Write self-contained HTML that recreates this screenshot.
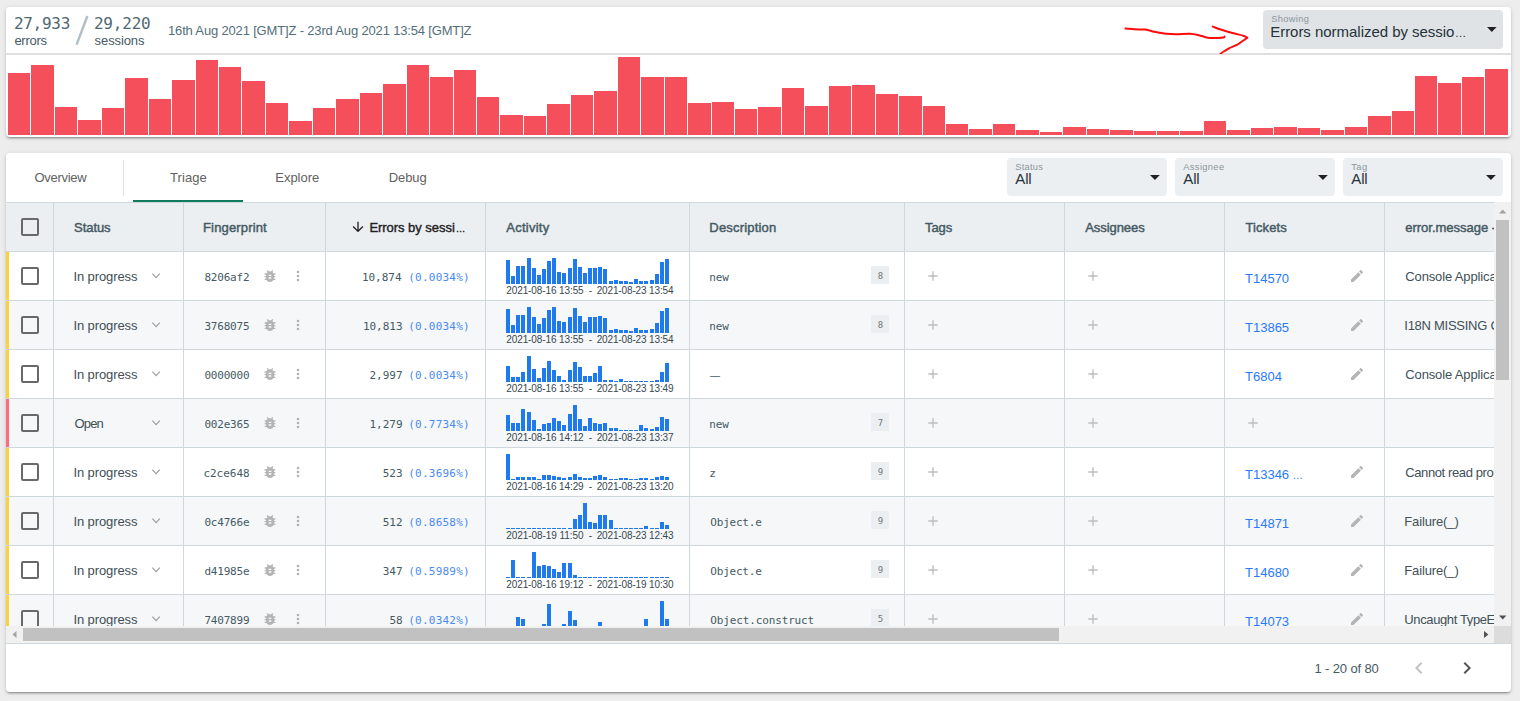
<!DOCTYPE html>
<html lang="en"><head><meta charset="utf-8"><title>Errors – Triage</title>
<style>
*{box-sizing:border-box;margin:0;padding:0}
html,body{width:1520px;height:701px;overflow:hidden;background:#ededed;font-family:"Liberation Sans",sans-serif;color:#37474f}
.card{position:absolute;background:#fff;border-radius:4px;box-shadow:0 3px 1px -2px rgba(0,0,0,.2),0 2px 2px 0 rgba(0,0,0,.14),0 1px 5px 0 rgba(0,0,0,.12)}
.t{position:absolute;white-space:nowrap;line-height:1}
.vl{position:absolute;width:1px;background:#cfd8dc}
.hl{position:absolute;height:1px;background:#cfd8dc}
.cb{position:absolute;width:18px;height:18px;border:2px solid #696969;border-radius:2px}
.sel{position:absolute;background:#eceff1;border-radius:4px}
svg{position:absolute;overflow:visible}
.b{position:absolute;background:#1f7af0;width:4px}
.r{position:absolute;background:#f54f5c}
.bx{position:absolute}
</style></head><body>

<div class="card" style="left:6px;top:7px;width:1505px;height:130px"></div>
<div class="bx" style="left:6px;top:53px;width:1505px;height:2px;background:#dfdfdf"></div>
<div class="t" style="left:13.90px;top:14px;font-size:16px;line-height:19px;font-family:'DejaVu Sans Mono','Liberation Mono',monospace;color:#506873;letter-spacing:-0.273px">27,933</div>
<div class="t" style="left:14.40px;top:33px;font-size:13px;line-height:15px;color:#455a64;letter-spacing:-0.269px">errors</div>
<svg style="left:70px;top:10px" width="24" height="40"><line x1="17.4" y1="6" x2="6.6" y2="34.6" stroke="#b0bec5" stroke-width="2.4"/></svg>
<div class="t" style="left:93.90px;top:14px;font-size:16px;line-height:19px;font-family:'DejaVu Sans Mono','Liberation Mono',monospace;color:#506873;letter-spacing:-0.193px">29,220</div>
<div class="t" style="left:94.60px;top:33px;font-size:13px;line-height:15px;color:#455a64;letter-spacing:-0.097px">sessions</div>
<div class="t" style="left:168.00px;top:23px;font-size:13px;line-height:15px;color:#546e7a;letter-spacing:-0.165px">16th Aug 2021 [GMT]Z - 23rd Aug 2021 13:54 [GMT]Z</div>
<svg style="left:0;top:0;overflow:hidden" width="1520" height="54"><g fill="none" stroke="#ff0a0a" stroke-width="2" stroke-linecap="round" stroke-linejoin="round"><path d="M1125.4 28.6C1127.0 28.7 1131.3 29.1 1134.7 29.3C1138.1 29.5 1142.3 29.2 1145.6 29.6C1148.9 30.0 1151.0 31.1 1154.5 31.8C1158.0 32.5 1162.7 33.4 1166.3 33.75C1169.9 34.1 1172.2 34.2 1176.2 34.2C1180.2 34.2 1186.2 33.6 1190 33.75C1193.8 33.9 1195.9 34.5 1198.9 35.2C1201.9 35.9 1204.7 37.2 1207.8 37.7C1210.9 38.2 1215.0 37.9 1217.6 37.9C1220.2 37.9 1222.4 37.7 1223.6 37.5C1224.8 37.3 1224.3 36.7 1224.5 36.5"/><path d="M1212.7 26.6C1214.2 27.1 1218.1 28.7 1221.6 29.8C1225.0 30.9 1229.8 32.3 1233.4 33.3C1237.0 34.3 1241.0 35.0 1243.3 35.7C1245.6 36.4 1246.5 37.4 1247.2 37.7"/><path d="M1247.2 37.7C1246.4 38.3 1243.9 40.1 1242.3 41.2C1240.7 42.4 1239.5 43.5 1237.4 44.6C1235.3 45.8 1231.7 47.0 1229.5 48.1C1227.3 49.2 1226.0 50.1 1224.5 51C1223.0 51.9 1221.2 53.2 1220.6 53.7"/></g></svg>
<div class="sel" style="left:1263px;top:10px;width:240px;height:38.6px;background:#dfe3e6"></div>
<div class="t" style="left:1271.20px;top:14px;font-size:9.3px;line-height:10px;color:#8a969c;letter-spacing:0.351px">Showing</div>
<div class="t" style="left:1270.20px;top:23px;font-size:15px;line-height:17px;color:#263238;letter-spacing:-0.031px">Errors normalized by sessio</div>
<div class="t" style="left:1454.70px;top:27px;font-size:11.6px;line-height:12px;color:#263238">…</div>
<svg style="left:1486.5px;top:27.2px" width="10" height="5"><path d="M0 0h9.6L4.8 5z" fill="#212121"/></svg>
<div class="r" style="left:8px;top:73px;width:22px;height:62px"></div>
<div class="r" style="left:31px;top:65px;width:23px;height:70px"></div>
<div class="r" style="left:55px;top:107px;width:22px;height:28px"></div>
<div class="r" style="left:78px;top:120px;width:23px;height:15px"></div>
<div class="r" style="left:102px;top:108px;width:22px;height:27px"></div>
<div class="r" style="left:125px;top:78px;width:23px;height:57px"></div>
<div class="r" style="left:149px;top:99px;width:22px;height:36px"></div>
<div class="r" style="left:172px;top:80px;width:23px;height:55px"></div>
<div class="r" style="left:196px;top:60px;width:22px;height:75px"></div>
<div class="r" style="left:219px;top:67px;width:22px;height:68px"></div>
<div class="r" style="left:242px;top:81px;width:23px;height:54px"></div>
<div class="r" style="left:266px;top:103px;width:22px;height:32px"></div>
<div class="r" style="left:289px;top:121px;width:23px;height:14px"></div>
<div class="r" style="left:313px;top:108px;width:22px;height:27px"></div>
<div class="r" style="left:336px;top:99px;width:23px;height:36px"></div>
<div class="r" style="left:360px;top:93px;width:22px;height:42px"></div>
<div class="r" style="left:383px;top:84px;width:23px;height:51px"></div>
<div class="r" style="left:407px;top:65px;width:22px;height:70px"></div>
<div class="r" style="left:430px;top:77px;width:23px;height:58px"></div>
<div class="r" style="left:454px;top:70px;width:22px;height:65px"></div>
<div class="r" style="left:477px;top:97px;width:22px;height:38px"></div>
<div class="r" style="left:500px;top:115px;width:23px;height:20px"></div>
<div class="r" style="left:524px;top:116px;width:22px;height:19px"></div>
<div class="r" style="left:547px;top:104px;width:23px;height:31px"></div>
<div class="r" style="left:571px;top:95px;width:22px;height:40px"></div>
<div class="r" style="left:594px;top:91px;width:23px;height:44px"></div>
<div class="r" style="left:618px;top:57px;width:22px;height:78px"></div>
<div class="r" style="left:641px;top:77px;width:23px;height:58px"></div>
<div class="r" style="left:665px;top:77px;width:22px;height:58px"></div>
<div class="r" style="left:688px;top:103px;width:23px;height:32px"></div>
<div class="r" style="left:712px;top:102px;width:22px;height:33px"></div>
<div class="r" style="left:735px;top:109px;width:22px;height:26px"></div>
<div class="r" style="left:758px;top:107px;width:23px;height:28px"></div>
<div class="r" style="left:782px;top:88px;width:22px;height:47px"></div>
<div class="r" style="left:805px;top:106px;width:23px;height:29px"></div>
<div class="r" style="left:829px;top:86px;width:22px;height:49px"></div>
<div class="r" style="left:852px;top:85px;width:23px;height:50px"></div>
<div class="r" style="left:876px;top:94px;width:22px;height:41px"></div>
<div class="r" style="left:899px;top:96px;width:23px;height:39px"></div>
<div class="r" style="left:923px;top:106px;width:22px;height:29px"></div>
<div class="r" style="left:946px;top:124px;width:22px;height:11px"></div>
<div class="r" style="left:969px;top:129px;width:23px;height:6px"></div>
<div class="r" style="left:993px;top:124px;width:22px;height:11px"></div>
<div class="r" style="left:1016px;top:130px;width:23px;height:5px"></div>
<div class="r" style="left:1040px;top:132px;width:22px;height:3px"></div>
<div class="r" style="left:1063px;top:127px;width:23px;height:8px"></div>
<div class="r" style="left:1087px;top:129px;width:22px;height:6px"></div>
<div class="r" style="left:1110px;top:130px;width:23px;height:5px"></div>
<div class="r" style="left:1134px;top:131px;width:22px;height:4px"></div>
<div class="r" style="left:1157px;top:131px;width:22px;height:4px"></div>
<div class="r" style="left:1180px;top:131px;width:23px;height:4px"></div>
<div class="r" style="left:1204px;top:121px;width:22px;height:14px"></div>
<div class="r" style="left:1227px;top:130px;width:23px;height:5px"></div>
<div class="r" style="left:1251px;top:128px;width:22px;height:7px"></div>
<div class="r" style="left:1274px;top:127px;width:23px;height:8px"></div>
<div class="r" style="left:1298px;top:128px;width:22px;height:7px"></div>
<div class="r" style="left:1321px;top:130px;width:23px;height:5px"></div>
<div class="r" style="left:1345px;top:127px;width:22px;height:8px"></div>
<div class="r" style="left:1368px;top:116px;width:23px;height:19px"></div>
<div class="r" style="left:1392px;top:111px;width:22px;height:24px"></div>
<div class="r" style="left:1415px;top:76px;width:22px;height:59px"></div>
<div class="r" style="left:1438px;top:83px;width:23px;height:52px"></div>
<div class="r" style="left:1462px;top:77px;width:22px;height:58px"></div>
<div class="r" style="left:1485px;top:69px;width:23px;height:66px"></div>
<div class="card" style="left:6px;top:153px;width:1505px;height:539px"></div>
<div class="t" style="left:34.50px;top:170px;font-size:13px;line-height:15px;color:#616161;letter-spacing:-0.298px">Overview</div>
<div class="t" style="left:170.00px;top:170px;font-size:13px;line-height:15px;color:#616161;letter-spacing:0.073px">Triage</div>
<div class="t" style="left:275.30px;top:170px;font-size:13px;line-height:15px;color:#616161;letter-spacing:-0.025px">Explore</div>
<div class="t" style="left:388.80px;top:170px;font-size:13px;line-height:15px;color:#616161;letter-spacing:-0.120px">Debug</div>
<div class="vl" style="left:123px;top:160px;height:36px;background:#e0e0e0"></div>
<div class="bx" style="left:133px;top:200px;width:110px;height:2px;background:#0f7b5c"></div>
<div class="sel" style="left:1007px;top:158px;width:160px;height:38px"></div>
<div class="t" style="left:1015.30px;top:162px;font-size:9.3px;line-height:10px;color:#8a969c;letter-spacing:0.258px">Status</div>
<div class="t" style="left:1015.30px;top:170px;font-size:15px;line-height:17px;color:#263238;letter-spacing:-0.169px">All</div>
<svg style="left:1150px;top:175px" width="10" height="5"><path d="M0 0h9.8L4.9 5z" fill="#212121"/></svg>
<div class="sel" style="left:1175px;top:158px;width:160px;height:38px"></div>
<div class="t" style="left:1183.30px;top:162px;font-size:9.3px;line-height:10px;color:#8a969c;letter-spacing:0.361px">Assignee</div>
<div class="t" style="left:1183.30px;top:170px;font-size:15px;line-height:17px;color:#263238;letter-spacing:-0.169px">All</div>
<svg style="left:1318px;top:175px" width="10" height="5"><path d="M0 0h9.8L4.9 5z" fill="#212121"/></svg>
<div class="sel" style="left:1343px;top:158px;width:160px;height:38px"></div>
<div class="t" style="left:1351.30px;top:162px;font-size:9.3px;line-height:10px;color:#8a969c;letter-spacing:0.391px">Tag</div>
<div class="t" style="left:1351.30px;top:170px;font-size:15px;line-height:17px;color:#263238;letter-spacing:-0.169px">All</div>
<svg style="left:1486px;top:175px" width="10" height="5"><path d="M0 0h9.8L4.9 5z" fill="#212121"/></svg>
<div class="bx" style="left:6px;top:202px;width:1488px;height:50px;background:#eceff1;border-top:1px solid #cfd8dc;border-bottom:1px solid #cfd8dc"></div>
<div class="cb" style="left:21px;top:218px"></div>
<div class="bx" style="left:0;top:203px;width:1494px;height:48px;overflow:hidden"><div class="bx" style="left:0;top:-203px">
<div class="t" style="left:74.10px;top:220px;font-size:13px;line-height:15px;color:#455a64;letter-spacing:-0.071px;-webkit-text-stroke:0.45px">Status</div>
<div class="t" style="left:203.00px;top:220px;font-size:13px;line-height:15px;color:#455a64;letter-spacing:0.157px;-webkit-text-stroke:0.45px">Fingerprint</div>
<div class="t" style="left:369.40px;top:220px;font-size:13px;line-height:15px;color:#212121;letter-spacing:-0.041px;-webkit-text-stroke:0.4px">Errors by sessi</div>
<div class="t" style="left:455.70px;top:223px;font-size:9.6px;line-height:11px;color:#212121;-webkit-text-stroke:0.3px">…</div>
<div class="t" style="left:506.30px;top:220px;font-size:13px;line-height:15px;color:#455a64;letter-spacing:0.247px;-webkit-text-stroke:0.45px">Activity</div>
<div class="t" style="left:709.30px;top:220px;font-size:13px;line-height:15px;color:#455a64;letter-spacing:0.190px;-webkit-text-stroke:0.45px">Description</div>
<div class="t" style="left:925.00px;top:220px;font-size:13px;line-height:15px;color:#455a64;letter-spacing:-0.087px;-webkit-text-stroke:0.45px">Tags</div>
<div class="t" style="left:1085.20px;top:220px;font-size:13px;line-height:15px;color:#455a64;letter-spacing:-0.060px;-webkit-text-stroke:0.45px">Assignees</div>
<div class="t" style="left:1245.40px;top:220px;font-size:13px;line-height:15px;color:#455a64;letter-spacing:0.119px;-webkit-text-stroke:0.45px">Tickets</div>
<div class="t" style="left:1405.20px;top:220px;font-size:13px;line-height:15px;color:#455a64;letter-spacing:-0.005px;-webkit-text-stroke:0.45px">error.message</div>
<div class="t" style="left:1491.80px;top:220px;font-size:13px;line-height:15px;color:#455a64;-webkit-text-stroke:0.45px">-</div>
</div></div>
<svg style="left:350.10px;top:219.10px" width="16" height="16" viewBox="0 0 24 24"><path d="M20 12l-1.41-1.41L13 16.17V4h-2v12.17l-5.58-5.59L4 12l8 8 8-8z" fill="#212121"/></svg>
<div class="bx" style="left:0;top:252px;width:1494px;height:374px;overflow:hidden">
<div class="bx" style="left:6px;top:0px;width:1488px;height:49px;background:#fff;border-bottom:1px solid #cfd8dc"></div>
<div class="bx" style="left:6px;top:0px;width:3px;height:48px;background:#fdd13a"></div>
<div class="cb" style="left:21px;top:15px"></div>
<div class="t" style="left:73.40px;top:17px;font-size:13px;line-height:15px;color:#414f57;letter-spacing:-0.093px">In progress</div>
<svg style="left:152px;top:21px" width="9" height="6" viewBox="0 0 9 6"><path d="M0.4 0.6 4.1 4.6 7.8 0.6" fill="none" stroke="#9e9e9e" stroke-width="1.2"/></svg>
<div class="t" style="left:204.40px;top:19px;font-size:11px;line-height:13px;font-family:'DejaVu Sans Mono','Liberation Mono',monospace;color:#455a64;letter-spacing:-0.189px">8206af2</div>
<svg style="left:261.60px;top:15.80px" width="16" height="16" viewBox="0 0 24 24"><path d="M20 8h-2.81c-.45-.78-1.07-1.45-1.82-1.96L17 4.41 15.59 3l-2.17 2.17C12.96 5.06 12.49 5 12 5c-.49 0-.96.06-1.41.17L8.41 3 7 4.41l1.62 1.63C7.88 6.55 7.26 7.22 6.81 8H4v2h2.09c-.05.33-.09.66-.09 1v1H4v2h2v1c0 .34.04.67.09 1H4v2h2.81c1.04 1.79 2.97 3 5.19 3s4.15-1.21 5.19-3H20v-2h-2.09c.05-.33.09-.66.09-1v-1h2v-2h-2v-1c0-.34-.04-.67-.09-1H20V8zm-6 8h-4v-2h4v2zm0-4h-4v-2h4v2z" fill="#b4b4b4"/></svg>
<svg style="left:290.1px;top:16px" width="16" height="16" viewBox="0 0 24 24"><circle cx="12" cy="6" r="2" fill="#b2b2b2"/><circle cx="12" cy="12" r="2" fill="#b2b2b2"/><circle cx="12" cy="18" r="2" fill="#b2b2b2"/></svg>
<div class="t" style="left:361.89px;top:19px;font-size:11px;line-height:13px;font-family:'DejaVu Sans Mono','Liberation Mono',monospace;color:#455a64">10,874</div>
<div class="t" style="left:408.20px;top:19px;font-size:11px;line-height:13px;font-family:'DejaVu Sans Mono','Liberation Mono',monospace;color:#4a8af4;letter-spacing:0.240px">(0.0034%)</div>
<div class="b" style="left:506.000px;top:8px;height:24px"></div>
<div class="b" style="left:511.125px;top:24px;height:8px"></div>
<div class="b" style="left:516.250px;top:14px;height:18px"></div>
<div class="b" style="left:521.375px;top:14px;height:18px"></div>
<div class="b" style="left:526.500px;top:6px;height:26px"></div>
<div class="b" style="left:531.625px;top:16px;height:16px"></div>
<div class="b" style="left:536.750px;top:23px;height:9px"></div>
<div class="b" style="left:541.875px;top:17px;height:15px"></div>
<div class="b" style="left:547.000px;top:9px;height:23px"></div>
<div class="b" style="left:552.125px;top:6px;height:26px"></div>
<div class="b" style="left:557.250px;top:20px;height:12px"></div>
<div class="b" style="left:562.375px;top:21px;height:11px"></div>
<div class="b" style="left:567.500px;top:16px;height:16px"></div>
<div class="b" style="left:572.625px;top:7px;height:25px"></div>
<div class="b" style="left:577.750px;top:15px;height:17px"></div>
<div class="b" style="left:582.875px;top:21px;height:11px"></div>
<div class="b" style="left:588.000px;top:16px;height:16px"></div>
<div class="b" style="left:593.125px;top:16px;height:16px"></div>
<div class="b" style="left:598.250px;top:15px;height:17px"></div>
<div class="b" style="left:603.375px;top:17px;height:15px"></div>
<div class="b" style="left:608.500px;top:29px;height:3px"></div>
<div class="b" style="left:613.625px;top:28px;height:4px"></div>
<div class="b" style="left:618.750px;top:29px;height:3px"></div>
<div class="b" style="left:623.875px;top:29px;height:3px"></div>
<div class="b" style="left:629.000px;top:30px;height:2px"></div>
<div class="b" style="left:634.125px;top:27px;height:5px"></div>
<div class="b" style="left:639.250px;top:29px;height:3px"></div>
<div class="b" style="left:644.375px;top:29px;height:3px"></div>
<div class="b" style="left:649.500px;top:28px;height:4px"></div>
<div class="b" style="left:654.625px;top:22px;height:10px"></div>
<div class="b" style="left:659.750px;top:10px;height:22px"></div>
<div class="b" style="left:664.875px;top:7px;height:25px"></div>
<div class="t" style="left:506.25px;top:33px;font-size:10px;line-height:11px;color:#37474f;letter-spacing:-0.103px">2021-08-16 13:55</div>
<div class="t" style="left:588.80px;top:33px;font-size:10px;line-height:11px;color:#37474f">-</div>
<div class="t" style="left:596.70px;top:33px;font-size:10px;line-height:11px;color:#37474f;letter-spacing:-0.140px">2021-08-23 13:54</div>
<div class="t" style="left:709.30px;top:19px;font-size:11px;line-height:13px;font-family:'DejaVu Sans Mono','Liberation Mono',monospace;color:#455a64;letter-spacing:-0.123px">new</div>
<div class="bx" style="left:871px;top:14px;width:18px;height:18px;background:#eceff1"></div>
<div class="t" style="left:877.80px;top:19px;font-size:9px;line-height:10px;font-family:'DejaVu Sans Mono','Liberation Mono',monospace;color:#757575">8</div>
<svg style="left:925.00px;top:16.00px" width="16" height="16" viewBox="0 0 24 24"><path d="M19 13h-6v6h-2v-6H5v-2h6V5h2v6h6v2z" fill="#bdbdbd"/></svg>
<svg style="left:1085.00px;top:16.00px" width="16" height="16" viewBox="0 0 24 24"><path d="M19 13h-6v6h-2v-6H5v-2h6V5h2v6h6v2z" fill="#bdbdbd"/></svg>
<div class="t" style="left:1245.00px;top:19px;font-size:13px;line-height:15px;color:#2979ff">T14570</div>
<svg style="left:1348.80px;top:15.80px" width="16" height="16" viewBox="0 0 24 24"><path d="M3 17.25V21h3.75L17.81 9.94l-3.75-3.75L3 17.25zM20.71 7.04c.39-.39.39-1.02 0-1.41l-2.34-2.34c-.39-.39-1.02-.39-1.41 0l-1.83 1.83 3.75 3.75 1.83-1.83z" fill="#b4b4b4"/></svg>
<div class="t" style="left:1405.30px;top:17px;font-size:13px;line-height:15px;color:#414f57;letter-spacing:-0.132px">Console Application Error</div>
<div class="bx" style="left:6px;top:49px;width:1488px;height:49px;background:#f5f7f8;border-bottom:1px solid #cfd8dc"></div>
<div class="bx" style="left:6px;top:49px;width:3px;height:48px;background:#fdd13a"></div>
<div class="cb" style="left:21px;top:64px"></div>
<div class="t" style="left:73.40px;top:66px;font-size:13px;line-height:15px;color:#414f57;letter-spacing:-0.093px">In progress</div>
<svg style="left:152px;top:70px" width="9" height="6" viewBox="0 0 9 6"><path d="M0.4 0.6 4.1 4.6 7.8 0.6" fill="none" stroke="#9e9e9e" stroke-width="1.2"/></svg>
<div class="t" style="left:204.40px;top:68px;font-size:11px;line-height:13px;font-family:'DejaVu Sans Mono','Liberation Mono',monospace;color:#455a64;letter-spacing:-0.189px">3768075</div>
<svg style="left:261.60px;top:64.80px" width="16" height="16" viewBox="0 0 24 24"><path d="M20 8h-2.81c-.45-.78-1.07-1.45-1.82-1.96L17 4.41 15.59 3l-2.17 2.17C12.96 5.06 12.49 5 12 5c-.49 0-.96.06-1.41.17L8.41 3 7 4.41l1.62 1.63C7.88 6.55 7.26 7.22 6.81 8H4v2h2.09c-.05.33-.09.66-.09 1v1H4v2h2v1c0 .34.04.67.09 1H4v2h2.81c1.04 1.79 2.97 3 5.19 3s4.15-1.21 5.19-3H20v-2h-2.09c.05-.33.09-.66.09-1v-1h2v-2h-2v-1c0-.34-.04-.67-.09-1H20V8zm-6 8h-4v-2h4v2zm0-4h-4v-2h4v2z" fill="#b4b4b4"/></svg>
<svg style="left:290.1px;top:65px" width="16" height="16" viewBox="0 0 24 24"><circle cx="12" cy="6" r="2" fill="#b2b2b2"/><circle cx="12" cy="12" r="2" fill="#b2b2b2"/><circle cx="12" cy="18" r="2" fill="#b2b2b2"/></svg>
<div class="t" style="left:362.89px;top:68px;font-size:11px;line-height:13px;font-family:'DejaVu Sans Mono','Liberation Mono',monospace;color:#455a64">10,813</div>
<div class="t" style="left:408.20px;top:68px;font-size:11px;line-height:13px;font-family:'DejaVu Sans Mono','Liberation Mono',monospace;color:#4a8af4;letter-spacing:0.240px">(0.0034%)</div>
<div class="b" style="left:506.000px;top:57px;height:24px"></div>
<div class="b" style="left:511.125px;top:73px;height:8px"></div>
<div class="b" style="left:516.250px;top:63px;height:18px"></div>
<div class="b" style="left:521.375px;top:63px;height:18px"></div>
<div class="b" style="left:526.500px;top:55px;height:26px"></div>
<div class="b" style="left:531.625px;top:65px;height:16px"></div>
<div class="b" style="left:536.750px;top:72px;height:9px"></div>
<div class="b" style="left:541.875px;top:66px;height:15px"></div>
<div class="b" style="left:547.000px;top:58px;height:23px"></div>
<div class="b" style="left:552.125px;top:55px;height:26px"></div>
<div class="b" style="left:557.250px;top:69px;height:12px"></div>
<div class="b" style="left:562.375px;top:70px;height:11px"></div>
<div class="b" style="left:567.500px;top:65px;height:16px"></div>
<div class="b" style="left:572.625px;top:56px;height:25px"></div>
<div class="b" style="left:577.750px;top:64px;height:17px"></div>
<div class="b" style="left:582.875px;top:70px;height:11px"></div>
<div class="b" style="left:588.000px;top:65px;height:16px"></div>
<div class="b" style="left:593.125px;top:65px;height:16px"></div>
<div class="b" style="left:598.250px;top:64px;height:17px"></div>
<div class="b" style="left:603.375px;top:66px;height:15px"></div>
<div class="b" style="left:608.500px;top:78px;height:3px"></div>
<div class="b" style="left:613.625px;top:77px;height:4px"></div>
<div class="b" style="left:618.750px;top:78px;height:3px"></div>
<div class="b" style="left:623.875px;top:78px;height:3px"></div>
<div class="b" style="left:629.000px;top:79px;height:2px"></div>
<div class="b" style="left:634.125px;top:76px;height:5px"></div>
<div class="b" style="left:639.250px;top:78px;height:3px"></div>
<div class="b" style="left:644.375px;top:78px;height:3px"></div>
<div class="b" style="left:649.500px;top:77px;height:4px"></div>
<div class="b" style="left:654.625px;top:71px;height:10px"></div>
<div class="b" style="left:659.750px;top:59px;height:22px"></div>
<div class="b" style="left:664.875px;top:56px;height:25px"></div>
<div class="t" style="left:506.25px;top:82px;font-size:10px;line-height:11px;color:#37474f;letter-spacing:-0.103px">2021-08-16 13:55</div>
<div class="t" style="left:588.80px;top:82px;font-size:10px;line-height:11px;color:#37474f">-</div>
<div class="t" style="left:596.70px;top:82px;font-size:10px;line-height:11px;color:#37474f;letter-spacing:-0.140px">2021-08-23 13:54</div>
<div class="t" style="left:709.30px;top:68px;font-size:11px;line-height:13px;font-family:'DejaVu Sans Mono','Liberation Mono',monospace;color:#455a64;letter-spacing:-0.123px">new</div>
<div class="bx" style="left:871px;top:63px;width:18px;height:18px;background:#eceff1"></div>
<div class="t" style="left:877.80px;top:68px;font-size:9px;line-height:10px;font-family:'DejaVu Sans Mono','Liberation Mono',monospace;color:#757575">8</div>
<svg style="left:925.00px;top:65.00px" width="16" height="16" viewBox="0 0 24 24"><path d="M19 13h-6v6h-2v-6H5v-2h6V5h2v6h6v2z" fill="#bdbdbd"/></svg>
<svg style="left:1085.00px;top:65.00px" width="16" height="16" viewBox="0 0 24 24"><path d="M19 13h-6v6h-2v-6H5v-2h6V5h2v6h6v2z" fill="#bdbdbd"/></svg>
<div class="t" style="left:1245.00px;top:68px;font-size:13px;line-height:15px;color:#2979ff">T13865</div>
<svg style="left:1348.80px;top:64.80px" width="16" height="16" viewBox="0 0 24 24"><path d="M3 17.25V21h3.75L17.81 9.94l-3.75-3.75L3 17.25zM20.71 7.04c.39-.39.39-1.02 0-1.41l-2.34-2.34c-.39-.39-1.02-.39-1.41 0l-1.83 1.83 3.75 3.75 1.83-1.83z" fill="#b4b4b4"/></svg>
<div class="t" style="left:1404.30px;top:66px;font-size:13px;line-height:15px;color:#414f57;letter-spacing:-0.269px">I18N MISSING Configuration</div>
<div class="bx" style="left:6px;top:98px;width:1488px;height:49px;background:#fff;border-bottom:1px solid #cfd8dc"></div>
<div class="bx" style="left:6px;top:98px;width:3px;height:48px;background:#fdd13a"></div>
<div class="cb" style="left:21px;top:113px"></div>
<div class="t" style="left:73.40px;top:115px;font-size:13px;line-height:15px;color:#414f57;letter-spacing:-0.093px">In progress</div>
<svg style="left:152px;top:119px" width="9" height="6" viewBox="0 0 9 6"><path d="M0.4 0.6 4.1 4.6 7.8 0.6" fill="none" stroke="#9e9e9e" stroke-width="1.2"/></svg>
<div class="t" style="left:204.40px;top:117px;font-size:11px;line-height:13px;font-family:'DejaVu Sans Mono','Liberation Mono',monospace;color:#455a64;letter-spacing:-0.189px">0000000</div>
<svg style="left:261.60px;top:113.80px" width="16" height="16" viewBox="0 0 24 24"><path d="M20 8h-2.81c-.45-.78-1.07-1.45-1.82-1.96L17 4.41 15.59 3l-2.17 2.17C12.96 5.06 12.49 5 12 5c-.49 0-.96.06-1.41.17L8.41 3 7 4.41l1.62 1.63C7.88 6.55 7.26 7.22 6.81 8H4v2h2.09c-.05.33-.09.66-.09 1v1H4v2h2v1c0 .34.04.67.09 1H4v2h2.81c1.04 1.79 2.97 3 5.19 3s4.15-1.21 5.19-3H20v-2h-2.09c.05-.33.09-.66.09-1v-1h2v-2h-2v-1c0-.34-.04-.67-.09-1H20V8zm-6 8h-4v-2h4v2zm0-4h-4v-2h4v2z" fill="#b4b4b4"/></svg>
<svg style="left:290.1px;top:114px" width="16" height="16" viewBox="0 0 24 24"><circle cx="12" cy="6" r="2" fill="#b2b2b2"/><circle cx="12" cy="12" r="2" fill="#b2b2b2"/><circle cx="12" cy="18" r="2" fill="#b2b2b2"/></svg>
<div class="t" style="left:369.51px;top:117px;font-size:11px;line-height:13px;font-family:'DejaVu Sans Mono','Liberation Mono',monospace;color:#455a64">2,997</div>
<div class="t" style="left:408.20px;top:117px;font-size:11px;line-height:13px;font-family:'DejaVu Sans Mono','Liberation Mono',monospace;color:#4a8af4;letter-spacing:0.240px">(0.0034%)</div>
<div class="b" style="left:506.000px;top:114px;height:16px"></div>
<div class="b" style="left:511.125px;top:125px;height:5px"></div>
<div class="b" style="left:516.250px;top:125px;height:5px"></div>
<div class="b" style="left:521.375px;top:120px;height:10px"></div>
<div class="b" style="left:526.500px;top:104px;height:26px"></div>
<div class="b" style="left:531.625px;top:117px;height:13px"></div>
<div class="b" style="left:536.750px;top:126px;height:4px"></div>
<div class="b" style="left:541.875px;top:116px;height:14px"></div>
<div class="b" style="left:547.000px;top:109px;height:21px"></div>
<div class="b" style="left:552.125px;top:118px;height:12px"></div>
<div class="b" style="left:557.250px;top:124px;height:6px"></div>
<div class="b" style="left:562.375px;top:128px;height:2px"></div>
<div class="b" style="left:567.500px;top:118px;height:12px"></div>
<div class="b" style="left:572.625px;top:110px;height:20px"></div>
<div class="b" style="left:577.750px;top:115px;height:15px"></div>
<div class="b" style="left:582.875px;top:124px;height:6px"></div>
<div class="b" style="left:588.000px;top:124px;height:6px"></div>
<div class="b" style="left:593.125px;top:121px;height:9px"></div>
<div class="b" style="left:598.250px;top:114px;height:16px"></div>
<div class="b" style="left:603.375px;top:128px;height:2px"></div>
<div class="b" style="left:608.500px;top:128px;height:2px"></div>
<div class="b" style="left:613.625px;top:129px;height:1px"></div>
<div class="b" style="left:618.750px;top:127px;height:3px"></div>
<div class="b" style="left:623.875px;top:129px;height:1px"></div>
<div class="b" style="left:629.000px;top:129px;height:1px"></div>
<div class="b" style="left:634.125px;top:129px;height:1px"></div>
<div class="b" style="left:639.250px;top:129px;height:1px"></div>
<div class="b" style="left:644.375px;top:129px;height:1px"></div>
<div class="b" style="left:649.500px;top:129px;height:1px"></div>
<div class="b" style="left:654.625px;top:128px;height:2px"></div>
<div class="b" style="left:659.750px;top:120px;height:10px"></div>
<div class="b" style="left:664.875px;top:111px;height:19px"></div>
<div class="t" style="left:506.25px;top:131px;font-size:10px;line-height:11px;color:#37474f;letter-spacing:-0.103px">2021-08-16 13:55</div>
<div class="t" style="left:588.80px;top:131px;font-size:10px;line-height:11px;color:#37474f">-</div>
<div class="t" style="left:596.70px;top:131px;font-size:10px;line-height:11px;color:#37474f;letter-spacing:-0.140px">2021-08-23 13:49</div>
<div class="t" style="left:710.00px;top:118px;font-size:10px;line-height:11px;color:#455a64">—</div>
<svg style="left:925.00px;top:114.00px" width="16" height="16" viewBox="0 0 24 24"><path d="M19 13h-6v6h-2v-6H5v-2h6V5h2v6h6v2z" fill="#bdbdbd"/></svg>
<svg style="left:1085.00px;top:114.00px" width="16" height="16" viewBox="0 0 24 24"><path d="M19 13h-6v6h-2v-6H5v-2h6V5h2v6h6v2z" fill="#bdbdbd"/></svg>
<div class="t" style="left:1245.00px;top:117px;font-size:13px;line-height:15px;color:#2979ff">T6804</div>
<svg style="left:1348.80px;top:113.80px" width="16" height="16" viewBox="0 0 24 24"><path d="M3 17.25V21h3.75L17.81 9.94l-3.75-3.75L3 17.25zM20.71 7.04c.39-.39.39-1.02 0-1.41l-2.34-2.34c-.39-.39-1.02-.39-1.41 0l-1.83 1.83 3.75 3.75 1.83-1.83z" fill="#b4b4b4"/></svg>
<div class="t" style="left:1405.30px;top:115px;font-size:13px;line-height:15px;color:#414f57;letter-spacing:-0.132px">Console Application Error</div>
<div class="bx" style="left:6px;top:147px;width:1488px;height:49px;background:#f5f7f8;border-bottom:1px solid #cfd8dc"></div>
<div class="bx" style="left:6px;top:147px;width:3px;height:48px;background:#ff6b7c"></div>
<div class="cb" style="left:21px;top:162px"></div>
<div class="t" style="left:74.40px;top:164px;font-size:13px;line-height:15px;color:#414f57;letter-spacing:-0.791px">Open</div>
<svg style="left:152px;top:168px" width="9" height="6" viewBox="0 0 9 6"><path d="M0.4 0.6 4.1 4.6 7.8 0.6" fill="none" stroke="#9e9e9e" stroke-width="1.2"/></svg>
<div class="t" style="left:204.40px;top:166px;font-size:11px;line-height:13px;font-family:'DejaVu Sans Mono','Liberation Mono',monospace;color:#455a64;letter-spacing:-0.189px">002e365</div>
<svg style="left:261.60px;top:162.80px" width="16" height="16" viewBox="0 0 24 24"><path d="M20 8h-2.81c-.45-.78-1.07-1.45-1.82-1.96L17 4.41 15.59 3l-2.17 2.17C12.96 5.06 12.49 5 12 5c-.49 0-.96.06-1.41.17L8.41 3 7 4.41l1.62 1.63C7.88 6.55 7.26 7.22 6.81 8H4v2h2.09c-.05.33-.09.66-.09 1v1H4v2h2v1c0 .34.04.67.09 1H4v2h2.81c1.04 1.79 2.97 3 5.19 3s4.15-1.21 5.19-3H20v-2h-2.09c.05-.33.09-.66.09-1v-1h2v-2h-2v-1c0-.34-.04-.67-.09-1H20V8zm-6 8h-4v-2h4v2zm0-4h-4v-2h4v2z" fill="#b4b4b4"/></svg>
<svg style="left:290.1px;top:163px" width="16" height="16" viewBox="0 0 24 24"><circle cx="12" cy="6" r="2" fill="#b2b2b2"/><circle cx="12" cy="12" r="2" fill="#b2b2b2"/><circle cx="12" cy="18" r="2" fill="#b2b2b2"/></svg>
<div class="t" style="left:369.51px;top:166px;font-size:11px;line-height:13px;font-family:'DejaVu Sans Mono','Liberation Mono',monospace;color:#455a64">1,279</div>
<div class="t" style="left:408.20px;top:166px;font-size:11px;line-height:13px;font-family:'DejaVu Sans Mono','Liberation Mono',monospace;color:#4a8af4;letter-spacing:0.240px">(0.7734%)</div>
<div class="b" style="left:506.000px;top:163px;height:16px"></div>
<div class="b" style="left:511.125px;top:171px;height:8px"></div>
<div class="b" style="left:516.250px;top:171px;height:8px"></div>
<div class="b" style="left:521.375px;top:157px;height:22px"></div>
<div class="b" style="left:526.500px;top:160px;height:19px"></div>
<div class="b" style="left:531.625px;top:168px;height:11px"></div>
<div class="b" style="left:536.750px;top:177px;height:2px"></div>
<div class="b" style="left:541.875px;top:172px;height:7px"></div>
<div class="b" style="left:547.000px;top:171px;height:8px"></div>
<div class="b" style="left:552.125px;top:166px;height:13px"></div>
<div class="b" style="left:557.250px;top:169px;height:10px"></div>
<div class="b" style="left:562.375px;top:173px;height:6px"></div>
<div class="b" style="left:567.500px;top:162px;height:17px"></div>
<div class="b" style="left:572.625px;top:153px;height:26px"></div>
<div class="b" style="left:577.750px;top:167px;height:12px"></div>
<div class="b" style="left:582.875px;top:174px;height:5px"></div>
<div class="b" style="left:588.000px;top:166px;height:13px"></div>
<div class="b" style="left:593.125px;top:171px;height:8px"></div>
<div class="b" style="left:598.250px;top:172px;height:7px"></div>
<div class="b" style="left:603.375px;top:171px;height:8px"></div>
<div class="b" style="left:608.500px;top:176px;height:3px"></div>
<div class="b" style="left:613.625px;top:176px;height:3px"></div>
<div class="b" style="left:618.750px;top:178px;height:1px"></div>
<div class="b" style="left:623.875px;top:178px;height:1px"></div>
<div class="b" style="left:629.000px;top:178px;height:1px"></div>
<div class="b" style="left:634.125px;top:178px;height:1px"></div>
<div class="b" style="left:639.250px;top:173px;height:6px"></div>
<div class="b" style="left:644.375px;top:176px;height:3px"></div>
<div class="b" style="left:649.500px;top:177px;height:2px"></div>
<div class="b" style="left:654.625px;top:175px;height:4px"></div>
<div class="b" style="left:659.750px;top:165px;height:14px"></div>
<div class="b" style="left:664.875px;top:167px;height:12px"></div>
<div class="t" style="left:506.25px;top:180px;font-size:10px;line-height:11px;color:#37474f;letter-spacing:-0.103px">2021-08-16 14:12</div>
<div class="t" style="left:588.80px;top:180px;font-size:10px;line-height:11px;color:#37474f">-</div>
<div class="t" style="left:596.70px;top:180px;font-size:10px;line-height:11px;color:#37474f;letter-spacing:-0.140px">2021-08-23 13:37</div>
<div class="t" style="left:709.30px;top:166px;font-size:11px;line-height:13px;font-family:'DejaVu Sans Mono','Liberation Mono',monospace;color:#455a64;letter-spacing:-0.123px">new</div>
<div class="bx" style="left:871px;top:161px;width:18px;height:18px;background:#eceff1"></div>
<div class="t" style="left:877.80px;top:166px;font-size:9px;line-height:10px;font-family:'DejaVu Sans Mono','Liberation Mono',monospace;color:#757575">7</div>
<svg style="left:925.00px;top:163.00px" width="16" height="16" viewBox="0 0 24 24"><path d="M19 13h-6v6h-2v-6H5v-2h6V5h2v6h6v2z" fill="#bdbdbd"/></svg>
<svg style="left:1085.00px;top:163.00px" width="16" height="16" viewBox="0 0 24 24"><path d="M19 13h-6v6h-2v-6H5v-2h6V5h2v6h6v2z" fill="#bdbdbd"/></svg>
<svg style="left:1245.00px;top:163.00px" width="16" height="16" viewBox="0 0 24 24"><path d="M19 13h-6v6h-2v-6H5v-2h6V5h2v6h6v2z" fill="#bdbdbd"/></svg>
<div class="bx" style="left:6px;top:196px;width:1488px;height:49px;background:#fff;border-bottom:1px solid #cfd8dc"></div>
<div class="bx" style="left:6px;top:196px;width:3px;height:48px;background:#fdd13a"></div>
<div class="cb" style="left:21px;top:211px"></div>
<div class="t" style="left:73.40px;top:213px;font-size:13px;line-height:15px;color:#414f57;letter-spacing:-0.093px">In progress</div>
<svg style="left:152px;top:217px" width="9" height="6" viewBox="0 0 9 6"><path d="M0.4 0.6 4.1 4.6 7.8 0.6" fill="none" stroke="#9e9e9e" stroke-width="1.2"/></svg>
<div class="t" style="left:203.40px;top:215px;font-size:11px;line-height:13px;font-family:'DejaVu Sans Mono','Liberation Mono',monospace;color:#455a64;letter-spacing:-0.023px">c2ce648</div>
<svg style="left:261.60px;top:211.80px" width="16" height="16" viewBox="0 0 24 24"><path d="M20 8h-2.81c-.45-.78-1.07-1.45-1.82-1.96L17 4.41 15.59 3l-2.17 2.17C12.96 5.06 12.49 5 12 5c-.49 0-.96.06-1.41.17L8.41 3 7 4.41l1.62 1.63C7.88 6.55 7.26 7.22 6.81 8H4v2h2.09c-.05.33-.09.66-.09 1v1H4v2h2v1c0 .34.04.67.09 1H4v2h2.81c1.04 1.79 2.97 3 5.19 3s4.15-1.21 5.19-3H20v-2h-2.09c.05-.33.09-.66.09-1v-1h2v-2h-2v-1c0-.34-.04-.67-.09-1H20V8zm-6 8h-4v-2h4v2zm0-4h-4v-2h4v2z" fill="#b4b4b4"/></svg>
<svg style="left:290.1px;top:212px" width="16" height="16" viewBox="0 0 24 24"><circle cx="12" cy="6" r="2" fill="#b2b2b2"/><circle cx="12" cy="12" r="2" fill="#b2b2b2"/><circle cx="12" cy="18" r="2" fill="#b2b2b2"/></svg>
<div class="t" style="left:382.75px;top:215px;font-size:11px;line-height:13px;font-family:'DejaVu Sans Mono','Liberation Mono',monospace;color:#455a64">523</div>
<div class="t" style="left:408.20px;top:215px;font-size:11px;line-height:13px;font-family:'DejaVu Sans Mono','Liberation Mono',monospace;color:#4a8af4;letter-spacing:0.240px">(0.3696%)</div>
<div class="b" style="left:506.000px;top:202px;height:26px"></div>
<div class="b" style="left:511.125px;top:227px;height:1px"></div>
<div class="b" style="left:516.250px;top:225px;height:3px"></div>
<div class="b" style="left:521.375px;top:225px;height:3px"></div>
<div class="b" style="left:526.500px;top:225px;height:3px"></div>
<div class="b" style="left:531.625px;top:225px;height:3px"></div>
<div class="b" style="left:536.750px;top:227px;height:1px"></div>
<div class="b" style="left:541.875px;top:223px;height:5px"></div>
<div class="b" style="left:547.000px;top:223px;height:5px"></div>
<div class="b" style="left:552.125px;top:224px;height:4px"></div>
<div class="b" style="left:557.250px;top:225px;height:3px"></div>
<div class="b" style="left:562.375px;top:226px;height:2px"></div>
<div class="b" style="left:567.500px;top:225px;height:3px"></div>
<div class="b" style="left:572.625px;top:222px;height:6px"></div>
<div class="b" style="left:577.750px;top:225px;height:3px"></div>
<div class="b" style="left:582.875px;top:226px;height:2px"></div>
<div class="b" style="left:588.000px;top:226px;height:2px"></div>
<div class="b" style="left:593.125px;top:224px;height:4px"></div>
<div class="b" style="left:598.250px;top:223px;height:5px"></div>
<div class="b" style="left:603.375px;top:225px;height:3px"></div>
<div class="b" style="left:608.500px;top:227px;height:1px"></div>
<div class="b" style="left:613.625px;top:227px;height:1px"></div>
<div class="b" style="left:618.750px;top:226px;height:2px"></div>
<div class="b" style="left:623.875px;top:226px;height:2px"></div>
<div class="b" style="left:629.000px;top:227px;height:1px"></div>
<div class="b" style="left:634.125px;top:227px;height:1px"></div>
<div class="b" style="left:639.250px;top:226px;height:2px"></div>
<div class="b" style="left:644.375px;top:226px;height:2px"></div>
<div class="b" style="left:649.500px;top:227px;height:1px"></div>
<div class="b" style="left:654.625px;top:225px;height:3px"></div>
<div class="b" style="left:659.750px;top:224px;height:4px"></div>
<div class="b" style="left:664.875px;top:225px;height:3px"></div>
<div class="t" style="left:506.25px;top:229px;font-size:10px;line-height:11px;color:#37474f;letter-spacing:-0.103px">2021-08-16 14:29</div>
<div class="t" style="left:588.80px;top:229px;font-size:10px;line-height:11px;color:#37474f">-</div>
<div class="t" style="left:596.70px;top:229px;font-size:10px;line-height:11px;color:#37474f;letter-spacing:-0.140px">2021-08-23 13:20</div>
<div class="t" style="left:709.30px;top:215px;font-size:11px;line-height:13px;font-family:'DejaVu Sans Mono','Liberation Mono',monospace;color:#455a64">z</div>
<div class="bx" style="left:871px;top:210px;width:18px;height:18px;background:#eceff1"></div>
<div class="t" style="left:877.80px;top:215px;font-size:9px;line-height:10px;font-family:'DejaVu Sans Mono','Liberation Mono',monospace;color:#757575">9</div>
<svg style="left:925.00px;top:212.00px" width="16" height="16" viewBox="0 0 24 24"><path d="M19 13h-6v6h-2v-6H5v-2h6V5h2v6h6v2z" fill="#bdbdbd"/></svg>
<svg style="left:1085.00px;top:212.00px" width="16" height="16" viewBox="0 0 24 24"><path d="M19 13h-6v6h-2v-6H5v-2h6V5h2v6h6v2z" fill="#bdbdbd"/></svg>
<div class="t" style="left:1245.00px;top:215px;font-size:13px;line-height:15px;color:#2979ff">T13346</div>
<div class="t" style="left:1292.60px;top:217px;font-size:10.5px;line-height:12px;color:#2979ff">…</div>
<svg style="left:1348.80px;top:211.80px" width="16" height="16" viewBox="0 0 24 24"><path d="M3 17.25V21h3.75L17.81 9.94l-3.75-3.75L3 17.25zM20.71 7.04c.39-.39.39-1.02 0-1.41l-2.34-2.34c-.39-.39-1.02-.39-1.41 0l-1.83 1.83 3.75 3.75 1.83-1.83z" fill="#b4b4b4"/></svg>
<div class="t" style="left:1405.30px;top:213px;font-size:13px;line-height:15px;color:#414f57;letter-spacing:-0.399px">Cannot read property of undefined</div>
<div class="bx" style="left:6px;top:245px;width:1488px;height:49px;background:#f5f7f8;border-bottom:1px solid #cfd8dc"></div>
<div class="bx" style="left:6px;top:245px;width:3px;height:48px;background:#fdd13a"></div>
<div class="cb" style="left:21px;top:260px"></div>
<div class="t" style="left:73.40px;top:262px;font-size:13px;line-height:15px;color:#414f57;letter-spacing:-0.093px">In progress</div>
<svg style="left:152px;top:266px" width="9" height="6" viewBox="0 0 9 6"><path d="M0.4 0.6 4.1 4.6 7.8 0.6" fill="none" stroke="#9e9e9e" stroke-width="1.2"/></svg>
<div class="t" style="left:204.40px;top:264px;font-size:11px;line-height:13px;font-family:'DejaVu Sans Mono','Liberation Mono',monospace;color:#455a64;letter-spacing:-0.189px">0c4766e</div>
<svg style="left:261.60px;top:260.80px" width="16" height="16" viewBox="0 0 24 24"><path d="M20 8h-2.81c-.45-.78-1.07-1.45-1.82-1.96L17 4.41 15.59 3l-2.17 2.17C12.96 5.06 12.49 5 12 5c-.49 0-.96.06-1.41.17L8.41 3 7 4.41l1.62 1.63C7.88 6.55 7.26 7.22 6.81 8H4v2h2.09c-.05.33-.09.66-.09 1v1H4v2h2v1c0 .34.04.67.09 1H4v2h2.81c1.04 1.79 2.97 3 5.19 3s4.15-1.21 5.19-3H20v-2h-2.09c.05-.33.09-.66.09-1v-1h2v-2h-2v-1c0-.34-.04-.67-.09-1H20V8zm-6 8h-4v-2h4v2zm0-4h-4v-2h4v2z" fill="#b4b4b4"/></svg>
<svg style="left:290.1px;top:261px" width="16" height="16" viewBox="0 0 24 24"><circle cx="12" cy="6" r="2" fill="#b2b2b2"/><circle cx="12" cy="12" r="2" fill="#b2b2b2"/><circle cx="12" cy="18" r="2" fill="#b2b2b2"/></svg>
<div class="t" style="left:382.75px;top:264px;font-size:11px;line-height:13px;font-family:'DejaVu Sans Mono','Liberation Mono',monospace;color:#455a64">512</div>
<div class="t" style="left:408.20px;top:264px;font-size:11px;line-height:13px;font-family:'DejaVu Sans Mono','Liberation Mono',monospace;color:#4a8af4;letter-spacing:0.240px">(0.8658%)</div>
<div class="b" style="left:506.000px;top:276px;height:1px"></div>
<div class="b" style="left:511.125px;top:276px;height:1px"></div>
<div class="b" style="left:516.250px;top:276px;height:1px"></div>
<div class="b" style="left:521.375px;top:276px;height:1px"></div>
<div class="b" style="left:526.500px;top:276px;height:1px"></div>
<div class="b" style="left:531.625px;top:276px;height:1px"></div>
<div class="b" style="left:536.750px;top:276px;height:1px"></div>
<div class="b" style="left:541.875px;top:276px;height:1px"></div>
<div class="b" style="left:547.000px;top:276px;height:1px"></div>
<div class="b" style="left:552.125px;top:276px;height:1px"></div>
<div class="b" style="left:557.250px;top:276px;height:1px"></div>
<div class="b" style="left:562.375px;top:276px;height:1px"></div>
<div class="b" style="left:567.500px;top:276px;height:1px"></div>
<div class="b" style="left:572.625px;top:267px;height:10px"></div>
<div class="b" style="left:577.750px;top:263px;height:14px"></div>
<div class="b" style="left:582.875px;top:251px;height:26px"></div>
<div class="b" style="left:588.000px;top:270px;height:7px"></div>
<div class="b" style="left:593.125px;top:271px;height:6px"></div>
<div class="b" style="left:598.250px;top:263px;height:14px"></div>
<div class="b" style="left:603.375px;top:263px;height:14px"></div>
<div class="b" style="left:608.500px;top:268px;height:9px"></div>
<div class="b" style="left:613.625px;top:276px;height:1px"></div>
<div class="b" style="left:618.750px;top:276px;height:1px"></div>
<div class="b" style="left:623.875px;top:276px;height:1px"></div>
<div class="b" style="left:629.000px;top:276px;height:1px"></div>
<div class="b" style="left:634.125px;top:276px;height:1px"></div>
<div class="b" style="left:639.250px;top:276px;height:1px"></div>
<div class="b" style="left:644.375px;top:274px;height:3px"></div>
<div class="b" style="left:649.500px;top:276px;height:1px"></div>
<div class="b" style="left:654.625px;top:276px;height:1px"></div>
<div class="b" style="left:659.750px;top:270px;height:7px"></div>
<div class="b" style="left:664.875px;top:273px;height:4px"></div>
<div class="t" style="left:506.25px;top:278px;font-size:10px;line-height:11px;color:#37474f;letter-spacing:-0.053px">2021-08-19 11:50</div>
<div class="t" style="left:588.80px;top:278px;font-size:10px;line-height:11px;color:#37474f">-</div>
<div class="t" style="left:596.70px;top:278px;font-size:10px;line-height:11px;color:#37474f;letter-spacing:-0.140px">2021-08-23 12:43</div>
<div class="t" style="left:710.30px;top:264px;font-size:11px;line-height:13px;font-family:'DejaVu Sans Mono','Liberation Mono',monospace;color:#455a64;letter-spacing:-0.208px">Object.e</div>
<div class="bx" style="left:871px;top:259px;width:18px;height:18px;background:#eceff1"></div>
<div class="t" style="left:877.80px;top:264px;font-size:9px;line-height:10px;font-family:'DejaVu Sans Mono','Liberation Mono',monospace;color:#757575">9</div>
<svg style="left:925.00px;top:261.00px" width="16" height="16" viewBox="0 0 24 24"><path d="M19 13h-6v6h-2v-6H5v-2h6V5h2v6h6v2z" fill="#bdbdbd"/></svg>
<svg style="left:1085.00px;top:261.00px" width="16" height="16" viewBox="0 0 24 24"><path d="M19 13h-6v6h-2v-6H5v-2h6V5h2v6h6v2z" fill="#bdbdbd"/></svg>
<div class="t" style="left:1245.00px;top:264px;font-size:13px;line-height:15px;color:#2979ff">T14871</div>
<svg style="left:1348.80px;top:260.80px" width="16" height="16" viewBox="0 0 24 24"><path d="M3 17.25V21h3.75L17.81 9.94l-3.75-3.75L3 17.25zM20.71 7.04c.39-.39.39-1.02 0-1.41l-2.34-2.34c-.39-.39-1.02-.39-1.41 0l-1.83 1.83 3.75 3.75 1.83-1.83z" fill="#b4b4b4"/></svg>
<div class="t" style="left:1404.30px;top:262px;font-size:13px;line-height:15px;color:#414f57;letter-spacing:-0.133px">Failure(_)</div>
<div class="bx" style="left:6px;top:294px;width:1488px;height:49px;background:#fff;border-bottom:1px solid #cfd8dc"></div>
<div class="bx" style="left:6px;top:294px;width:3px;height:48px;background:#fdd13a"></div>
<div class="cb" style="left:21px;top:309px"></div>
<div class="t" style="left:73.40px;top:311px;font-size:13px;line-height:15px;color:#414f57;letter-spacing:-0.093px">In progress</div>
<svg style="left:152px;top:315px" width="9" height="6" viewBox="0 0 9 6"><path d="M0.4 0.6 4.1 4.6 7.8 0.6" fill="none" stroke="#9e9e9e" stroke-width="1.2"/></svg>
<div class="t" style="left:204.40px;top:313px;font-size:11px;line-height:13px;font-family:'DejaVu Sans Mono','Liberation Mono',monospace;color:#455a64;letter-spacing:-0.189px">d41985e</div>
<svg style="left:261.60px;top:309.80px" width="16" height="16" viewBox="0 0 24 24"><path d="M20 8h-2.81c-.45-.78-1.07-1.45-1.82-1.96L17 4.41 15.59 3l-2.17 2.17C12.96 5.06 12.49 5 12 5c-.49 0-.96.06-1.41.17L8.41 3 7 4.41l1.62 1.63C7.88 6.55 7.26 7.22 6.81 8H4v2h2.09c-.05.33-.09.66-.09 1v1H4v2h2v1c0 .34.04.67.09 1H4v2h2.81c1.04 1.79 2.97 3 5.19 3s4.15-1.21 5.19-3H20v-2h-2.09c.05-.33.09-.66.09-1v-1h2v-2h-2v-1c0-.34-.04-.67-.09-1H20V8zm-6 8h-4v-2h4v2zm0-4h-4v-2h4v2z" fill="#b4b4b4"/></svg>
<svg style="left:290.1px;top:310px" width="16" height="16" viewBox="0 0 24 24"><circle cx="12" cy="6" r="2" fill="#b2b2b2"/><circle cx="12" cy="12" r="2" fill="#b2b2b2"/><circle cx="12" cy="18" r="2" fill="#b2b2b2"/></svg>
<div class="t" style="left:382.75px;top:313px;font-size:11px;line-height:13px;font-family:'DejaVu Sans Mono','Liberation Mono',monospace;color:#455a64">347</div>
<div class="t" style="left:408.20px;top:313px;font-size:11px;line-height:13px;font-family:'DejaVu Sans Mono','Liberation Mono',monospace;color:#4a8af4;letter-spacing:0.240px">(0.5989%)</div>
<div class="b" style="left:506.000px;top:325px;height:1px"></div>
<div class="b" style="left:511.125px;top:308px;height:18px"></div>
<div class="b" style="left:516.250px;top:325px;height:1px"></div>
<div class="b" style="left:521.375px;top:325px;height:1px"></div>
<div class="b" style="left:526.500px;top:325px;height:1px"></div>
<div class="b" style="left:531.625px;top:300px;height:26px"></div>
<div class="b" style="left:536.750px;top:314px;height:12px"></div>
<div class="b" style="left:541.875px;top:313px;height:13px"></div>
<div class="b" style="left:547.000px;top:314px;height:12px"></div>
<div class="b" style="left:552.125px;top:317px;height:9px"></div>
<div class="b" style="left:557.250px;top:320px;height:6px"></div>
<div class="b" style="left:562.375px;top:311px;height:15px"></div>
<div class="b" style="left:567.500px;top:311px;height:15px"></div>
<div class="b" style="left:572.625px;top:323px;height:3px"></div>
<div class="b" style="left:577.750px;top:325px;height:1px"></div>
<div class="b" style="left:582.875px;top:325px;height:1px"></div>
<div class="b" style="left:588.000px;top:325px;height:1px"></div>
<div class="b" style="left:593.125px;top:325px;height:1px"></div>
<div class="b" style="left:598.250px;top:325px;height:1px"></div>
<div class="b" style="left:603.375px;top:325px;height:1px"></div>
<div class="b" style="left:608.500px;top:325px;height:1px"></div>
<div class="b" style="left:613.625px;top:325px;height:1px"></div>
<div class="b" style="left:618.750px;top:325px;height:1px"></div>
<div class="b" style="left:623.875px;top:325px;height:1px"></div>
<div class="b" style="left:629.000px;top:325px;height:1px"></div>
<div class="b" style="left:634.125px;top:325px;height:1px"></div>
<div class="b" style="left:639.250px;top:325px;height:1px"></div>
<div class="b" style="left:644.375px;top:325px;height:1px"></div>
<div class="b" style="left:649.500px;top:325px;height:1px"></div>
<div class="b" style="left:654.625px;top:325px;height:1px"></div>
<div class="b" style="left:659.750px;top:325px;height:1px"></div>
<div class="b" style="left:664.875px;top:325px;height:1px"></div>
<div class="t" style="left:506.25px;top:327px;font-size:10px;line-height:11px;color:#37474f;letter-spacing:-0.103px">2021-08-16 19:12</div>
<div class="t" style="left:588.80px;top:327px;font-size:10px;line-height:11px;color:#37474f">-</div>
<div class="t" style="left:596.70px;top:327px;font-size:10px;line-height:11px;color:#37474f;letter-spacing:-0.140px">2021-08-19 10:30</div>
<div class="t" style="left:710.30px;top:313px;font-size:11px;line-height:13px;font-family:'DejaVu Sans Mono','Liberation Mono',monospace;color:#455a64;letter-spacing:-0.208px">Object.e</div>
<div class="bx" style="left:871px;top:308px;width:18px;height:18px;background:#eceff1"></div>
<div class="t" style="left:877.80px;top:313px;font-size:9px;line-height:10px;font-family:'DejaVu Sans Mono','Liberation Mono',monospace;color:#757575">9</div>
<svg style="left:925.00px;top:310.00px" width="16" height="16" viewBox="0 0 24 24"><path d="M19 13h-6v6h-2v-6H5v-2h6V5h2v6h6v2z" fill="#bdbdbd"/></svg>
<svg style="left:1085.00px;top:310.00px" width="16" height="16" viewBox="0 0 24 24"><path d="M19 13h-6v6h-2v-6H5v-2h6V5h2v6h6v2z" fill="#bdbdbd"/></svg>
<div class="t" style="left:1245.00px;top:313px;font-size:13px;line-height:15px;color:#2979ff">T14680</div>
<svg style="left:1348.80px;top:309.80px" width="16" height="16" viewBox="0 0 24 24"><path d="M3 17.25V21h3.75L17.81 9.94l-3.75-3.75L3 17.25zM20.71 7.04c.39-.39.39-1.02 0-1.41l-2.34-2.34c-.39-.39-1.02-.39-1.41 0l-1.83 1.83 3.75 3.75 1.83-1.83z" fill="#b4b4b4"/></svg>
<div class="t" style="left:1404.30px;top:311px;font-size:13px;line-height:15px;color:#414f57;letter-spacing:-0.133px">Failure(_)</div>
<div class="bx" style="left:6px;top:343px;width:1488px;height:49px;background:#f5f7f8;border-bottom:1px solid #cfd8dc"></div>
<div class="bx" style="left:6px;top:343px;width:3px;height:48px;background:#fdd13a"></div>
<div class="cb" style="left:21px;top:358px"></div>
<div class="t" style="left:73.40px;top:360px;font-size:13px;line-height:15px;color:#414f57;letter-spacing:-0.093px">In progress</div>
<svg style="left:152px;top:364px" width="9" height="6" viewBox="0 0 9 6"><path d="M0.4 0.6 4.1 4.6 7.8 0.6" fill="none" stroke="#9e9e9e" stroke-width="1.2"/></svg>
<div class="t" style="left:204.40px;top:362px;font-size:11px;line-height:13px;font-family:'DejaVu Sans Mono','Liberation Mono',monospace;color:#455a64;letter-spacing:-0.189px">7407899</div>
<svg style="left:261.60px;top:358.80px" width="16" height="16" viewBox="0 0 24 24"><path d="M20 8h-2.81c-.45-.78-1.07-1.45-1.82-1.96L17 4.41 15.59 3l-2.17 2.17C12.96 5.06 12.49 5 12 5c-.49 0-.96.06-1.41.17L8.41 3 7 4.41l1.62 1.63C7.88 6.55 7.26 7.22 6.81 8H4v2h2.09c-.05.33-.09.66-.09 1v1H4v2h2v1c0 .34.04.67.09 1H4v2h2.81c1.04 1.79 2.97 3 5.19 3s4.15-1.21 5.19-3H20v-2h-2.09c.05-.33.09-.66.09-1v-1h2v-2h-2v-1c0-.34-.04-.67-.09-1H20V8zm-6 8h-4v-2h4v2zm0-4h-4v-2h4v2z" fill="#b4b4b4"/></svg>
<svg style="left:290.1px;top:359px" width="16" height="16" viewBox="0 0 24 24"><circle cx="12" cy="6" r="2" fill="#b2b2b2"/><circle cx="12" cy="12" r="2" fill="#b2b2b2"/><circle cx="12" cy="18" r="2" fill="#b2b2b2"/></svg>
<div class="t" style="left:389.38px;top:362px;font-size:11px;line-height:13px;font-family:'DejaVu Sans Mono','Liberation Mono',monospace;color:#455a64">58</div>
<div class="t" style="left:408.20px;top:362px;font-size:11px;line-height:13px;font-family:'DejaVu Sans Mono','Liberation Mono',monospace;color:#4a8af4;letter-spacing:0.240px">(0.0342%)</div>
<div class="b" style="left:506.000px;top:374px;height:1px"></div>
<div class="b" style="left:511.125px;top:374px;height:1px"></div>
<div class="b" style="left:516.250px;top:365px;height:10px"></div>
<div class="b" style="left:521.375px;top:367px;height:8px"></div>
<div class="b" style="left:526.500px;top:374px;height:1px"></div>
<div class="b" style="left:531.625px;top:374px;height:1px"></div>
<div class="b" style="left:536.750px;top:374px;height:1px"></div>
<div class="b" style="left:541.875px;top:372px;height:3px"></div>
<div class="b" style="left:547.000px;top:352px;height:23px"></div>
<div class="b" style="left:552.125px;top:374px;height:1px"></div>
<div class="b" style="left:557.250px;top:374px;height:1px"></div>
<div class="b" style="left:562.375px;top:372px;height:3px"></div>
<div class="b" style="left:567.500px;top:359px;height:16px"></div>
<div class="b" style="left:572.625px;top:368px;height:7px"></div>
<div class="b" style="left:577.750px;top:374px;height:1px"></div>
<div class="b" style="left:582.875px;top:374px;height:1px"></div>
<div class="b" style="left:588.000px;top:374px;height:1px"></div>
<div class="b" style="left:593.125px;top:374px;height:1px"></div>
<div class="b" style="left:598.250px;top:370px;height:5px"></div>
<div class="b" style="left:603.375px;top:374px;height:1px"></div>
<div class="b" style="left:608.500px;top:374px;height:1px"></div>
<div class="b" style="left:613.625px;top:374px;height:1px"></div>
<div class="b" style="left:618.750px;top:374px;height:1px"></div>
<div class="b" style="left:623.875px;top:374px;height:1px"></div>
<div class="b" style="left:629.000px;top:374px;height:1px"></div>
<div class="b" style="left:634.125px;top:374px;height:1px"></div>
<div class="b" style="left:639.250px;top:374px;height:1px"></div>
<div class="b" style="left:644.375px;top:367px;height:8px"></div>
<div class="b" style="left:649.500px;top:374px;height:1px"></div>
<div class="b" style="left:654.625px;top:374px;height:1px"></div>
<div class="b" style="left:659.750px;top:349px;height:26px"></div>
<div class="b" style="left:664.875px;top:367px;height:8px"></div>
<div class="t" style="left:506.25px;top:376px;font-size:10px;line-height:11px;color:#37474f;letter-spacing:-0.103px">2021-08-16 19:12</div>
<div class="t" style="left:588.80px;top:376px;font-size:10px;line-height:11px;color:#37474f">-</div>
<div class="t" style="left:596.70px;top:376px;font-size:10px;line-height:11px;color:#37474f;letter-spacing:-0.140px">2021-08-23 13:54</div>
<div class="t" style="left:710.30px;top:362px;font-size:11px;line-height:13px;font-family:'DejaVu Sans Mono','Liberation Mono',monospace;color:#455a64;letter-spacing:-0.136px">Object.construct</div>
<div class="bx" style="left:871px;top:357px;width:18px;height:18px;background:#eceff1"></div>
<div class="t" style="left:877.80px;top:362px;font-size:9px;line-height:10px;font-family:'DejaVu Sans Mono','Liberation Mono',monospace;color:#757575">5</div>
<svg style="left:925.00px;top:359.00px" width="16" height="16" viewBox="0 0 24 24"><path d="M19 13h-6v6h-2v-6H5v-2h6V5h2v6h6v2z" fill="#bdbdbd"/></svg>
<svg style="left:1085.00px;top:359.00px" width="16" height="16" viewBox="0 0 24 24"><path d="M19 13h-6v6h-2v-6H5v-2h6V5h2v6h6v2z" fill="#bdbdbd"/></svg>
<div class="t" style="left:1245.00px;top:362px;font-size:13px;line-height:15px;color:#2979ff">T14073</div>
<svg style="left:1348.80px;top:358.80px" width="16" height="16" viewBox="0 0 24 24"><path d="M3 17.25V21h3.75L17.81 9.94l-3.75-3.75L3 17.25zM20.71 7.04c.39-.39.39-1.02 0-1.41l-2.34-2.34c-.39-.39-1.02-.39-1.41 0l-1.83 1.83 3.75 3.75 1.83-1.83z" fill="#b4b4b4"/></svg>
<div class="t" style="left:1404.30px;top:360px;font-size:13px;line-height:15px;color:#414f57;letter-spacing:-0.376px">Uncaught TypeError: x is not a function</div>
</div>
<div class="vl" style="left:53px;top:203px;height:423px"></div>
<div class="vl" style="left:183px;top:203px;height:423px"></div>
<div class="vl" style="left:325px;top:203px;height:423px"></div>
<div class="vl" style="left:485px;top:203px;height:423px"></div>
<div class="vl" style="left:689px;top:203px;height:423px"></div>
<div class="vl" style="left:904px;top:203px;height:423px"></div>
<div class="vl" style="left:1064px;top:203px;height:423px"></div>
<div class="vl" style="left:1224px;top:203px;height:423px"></div>
<div class="vl" style="left:1384px;top:203px;height:423px"></div>
<div class="bx" style="left:1494px;top:202px;width:17px;height:424px;background:#f1f1f1"></div>
<div class="bx" style="left:1496px;top:220px;width:13px;height:160px;background:#c1c1c1"></div>
<svg style="left:1499px;top:209px" width="8" height="5"><path d="M0 4.5 3.7 0.5 7.4 4.5z" fill="#a3a3a3"/></svg>
<svg style="left:1499.2px;top:614.6px" width="8" height="5"><path d="M0 0.5h7.4L3.7 4.5z" fill="#505050"/></svg>
<div class="bx" style="left:6px;top:626px;width:1488px;height:17px;background:#f1f1f1"></div>
<div class="bx" style="left:1494px;top:626px;width:17px;height:17px;background:#dcdcdc"></div>
<div class="bx" style="left:23px;top:628px;width:1036px;height:13px;background:#c1c1c1"></div>
<svg style="left:11.5px;top:631px" width="5" height="8"><path d="M4.5 0 0.5 3.5 4.5 7z" fill="#a3a3a3"/></svg>
<svg style="left:1483.8px;top:631.2px" width="5" height="8"><path d="M0 0 4.4 3.5 0 7z" fill="#505050"/></svg>
<div class="hl" style="left:6px;top:643px;width:1505px;background:#cfd8dc"></div>
<div class="t" style="left:1314.50px;top:661px;font-size:13px;line-height:15px;color:#455a64;letter-spacing:-0.131px">1 - 20 of 80</div>
<svg style="left:1407.10px;top:655.70px" width="24" height="24" viewBox="0 0 24 24"><path d="M15.41 7.41 14 6l-6 6 6 6 1.41-1.41L10.83 12z" fill="#c2c2c2"/></svg>
<svg style="left:1455.00px;top:655.80px" width="24" height="24" viewBox="0 0 24 24"><path d="M10 6 8.59 7.41 13.17 12l-4.58 4.59L10 18l6-6z" fill="#555"/></svg>
</body></html>
